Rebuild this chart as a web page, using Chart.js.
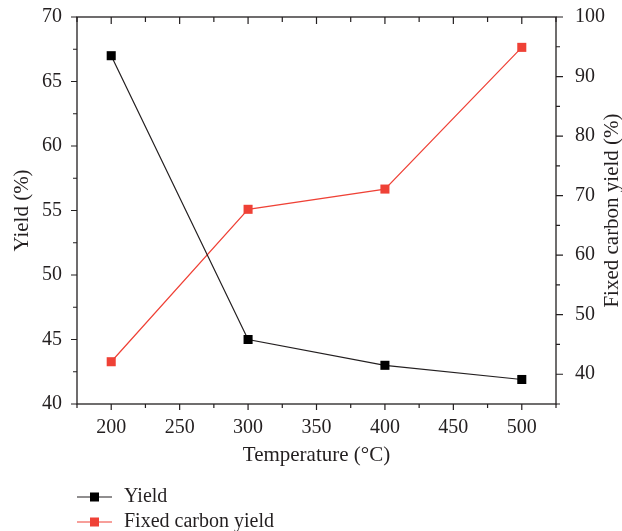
<!DOCTYPE html>
<html>
<head>
<meta charset="utf-8">
<script src="https://cdn.jsdelivr.net/npm/chart.js@4.4.1/dist/chart.umd.min.js"></script>
<style>
  html, body { margin: 0; padding: 0; background: #fff; }
</style>
</head>
<body>
<canvas id="yieldGraph" width="622" height="531"></canvas>
<script>
// data
const temperatures = [200, 300, 400, 500];
const yieldValues = [67, 45, 43, 41.9];
const fixedCarbonValues = [42.1, 67.7, 71.1, 94.9];

const xTicks = [200, 250, 300, 350, 400, 450, 500];
const xMinorTicks = [175, 225, 275, 325, 375, 425, 475, 525];
const yLeftTicks = [40, 45, 50, 55, 60, 65, 70];
const yLeftMinorTicks = [42.5, 47.5, 52.5, 57.5, 62.5, 67.5];
const yRightTicks = [40, 50, 60, 70, 80, 90, 100];
const yRightMinorTicks = [35, 45, 55, 65, 75, 85, 95];

const ink = '#231f20';
const red = '#ef4136';
const fontFamily = "'Liberation Serif', 'Times New Roman', serif";
const tickFont = { family: fontFamily, size: 20 };
const titleFont = { family: fontFamily, size: 21 };

// frame, tick marks, right title and legend
const framePlugin = {
    id: 'frame',
    afterDraw(chart) {
        const ctx = chart.ctx;
        const area = chart.chartArea;
        const x = chart.scales.x;
        const yl = chart.scales.y;
        const yr = chart.scales.y1;
        ctx.save();
        ctx.strokeStyle = ink;
        ctx.lineWidth = 1.3;
        ctx.strokeRect(area.left, area.top, area.right - area.left, area.bottom - area.top);

        ctx.lineWidth = 1.2;
        ctx.beginPath();
        const tick = (x1, y1, x2, y2) => { ctx.moveTo(x1, y1); ctx.lineTo(x2, y2); };
        xTicks.forEach(v => {
            const px = x.getPixelForValue(v);
            tick(px, area.bottom, px, area.bottom + 6);
            tick(px, area.top, px, area.top + 7);
        });
        xMinorTicks.forEach(v => {
            const px = x.getPixelForValue(v);
            tick(px, area.bottom, px, area.bottom + 4);
            tick(px, area.top, px, area.top + 5);
        });
        yLeftTicks.forEach(v => {
            const py = yl.getPixelForValue(v);
            tick(area.left - 6, py, area.left, py);
        });
        yLeftMinorTicks.forEach(v => {
            const py = yl.getPixelForValue(v);
            tick(area.left - 4, py, area.left, py);
        });
        yRightTicks.forEach(v => {
            const py = yr.getPixelForValue(v);
            tick(area.right, py, area.right + 7, py);
        });
        yRightMinorTicks.forEach(v => {
            const py = yr.getPixelForValue(v);
            tick(area.right, py, area.right + 4, py);
        });
        ctx.stroke();

        // right axis title, reading bottom to top
        ctx.fillStyle = ink;
        ctx.font = '21px ' + fontFamily;
        ctx.textAlign = 'center';
        ctx.textBaseline = 'middle';
        ctx.save();
        ctx.translate(612, (area.top + area.bottom) / 2);
        ctx.rotate(-Math.PI / 2);
        ctx.fillText('Fixed carbon yield (%)', 0, 0);
        ctx.restore();

        // legend
        ctx.font = '20px ' + fontFamily;
        ctx.textAlign = 'left';
        chart.data.datasets.forEach((ds, i) => {
            const ly = 497 + i * 25;
            ctx.strokeStyle = ds.borderColor;
            ctx.lineWidth = 1.2;
            ctx.beginPath();
            ctx.moveTo(77, ly);
            ctx.lineTo(112, ly);
            ctx.stroke();
            ctx.fillStyle = ds.backgroundColor;
            ctx.fillRect(90, ly - 4.5, 9, 9);
            ctx.fillStyle = ink;
            ctx.fillText(ds.label, 124, ly);
        });
        ctx.restore();
    }
};

const fitVertical = width => axis => {
    axis.width = width;
    axis.paddingTop = 0;
    axis.paddingBottom = 0;
};

const yieldGraph = new Chart(
    document.getElementById('yieldGraph'),
    {
        type: 'line',
        data: {
            datasets: [
                {
                    label: 'Yield',
                    data: temperatures.map((t, i) => ({ x: t, y: yieldValues[i] })),
                    borderColor: ink,
                    backgroundColor: '#000',
                    borderWidth: 1.2,
                    pointStyle: 'rect',
                    pointRadius: 6.4,
                    pointBorderWidth: 0,
                    yAxisID: 'y',
                },
                {
                    label: 'Fixed carbon yield',
                    data: temperatures.map((t, i) => ({ x: t, y: fixedCarbonValues[i] })),
                    borderColor: red,
                    backgroundColor: red,
                    borderWidth: 1.2,
                    pointStyle: 'rect',
                    pointRadius: 6.4,
                    pointBorderWidth: 0,
                    yAxisID: 'y1',
                },
            ],
        },
        options: {
            responsive: false,
            animation: false,
            layout: { padding: { top: 17, bottom: 57, left: 0, right: 0 } },
            plugins: {
                legend: { display: false },
                tooltip: { enabled: false },
            },
            scales: {
                x: {
                    type: 'linear',
                    min: 175,
                    max: 525,
                    afterBuildTicks: axis => { axis.ticks = xTicks.map(v => ({ value: v })); },
                    afterFit: axis => { axis.height = 70; axis.paddingLeft = 0; axis.paddingRight = 0; },
                    grid: { display: false, drawTicks: false },
                    border: { display: false },
                    ticks: { font: tickFont, color: ink, padding: 12, maxRotation: 0 },
                    title: {
                        display: true,
                        text: 'Temperature (°C)',
                        font: titleFont,
                        color: ink,
                        padding: { top: 0, bottom: 6 },
                    },
                },
                y: {
                    position: 'left',
                    min: 40,
                    max: 70,
                    afterBuildTicks: axis => { axis.ticks = yLeftTicks.map(v => ({ value: v })); },
                    afterFit: fitVertical(77),
                    grid: { display: false, drawTicks: false },
                    border: { display: false },
                    ticks: { font: tickFont, color: ink, padding: 15 },
                    title: {
                        display: true,
                        text: 'Yield (%)',
                        font: titleFont,
                        color: ink,
                        padding: { top: 10, bottom: 0 },
                    },
                },
                y1: {
                    position: 'right',
                    min: 35,
                    max: 100,
                    afterBuildTicks: axis => { axis.ticks = yRightTicks.map(v => ({ value: v })); },
                    afterFit: fitVertical(66),
                    grid: { display: false, drawTicks: false },
                    border: { display: false },
                    ticks: { font: tickFont, color: ink, padding: 19 },
                },
            },
        },
        plugins: [framePlugin],
    }
);
</script>
</body>
</html>
